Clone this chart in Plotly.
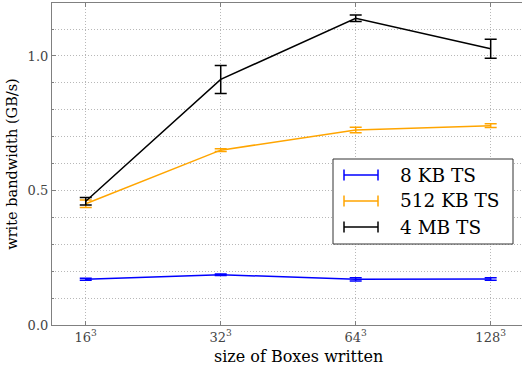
import plotly.graph_objects as go

categories = ["16<sup>3</sup>", "32<sup>3</sup>", "64<sup>3</sup>", "128<sup>3</sup>"]
x_idx = [0, 1, 2, 3]

series_names = ["8 KB TS", "512 KB TS", "4 MB TS"]
series_colors = ["#0000ff", "#ffa500", "#000000"]
vals_8kb = [0.170, 0.187, 0.170, 0.171]
err_8kb = [0.004, 0.003, 0.006, 0.005]
vals_512kb = [0.451, 0.650, 0.725, 0.741]
err_512kb = [0.014, 0.005, 0.010, 0.007]
vals_4mb = [0.460, 0.913, 1.140, 1.027]
err_4mb = [0.014, 0.052, 0.012, 0.035]

y_ticks = [0.0, 0.5, 1.0]
y_tick_labels = ["0.0", "0.5", "1.0"]

FONT = "DejaVu Serif, Liberation Serif, serif"
GRID_DASH = "1px,2px"

W, H = 522, 371
ML, MR, MT, MB = 52, 0, 3, 46
PW, PH = W - ML - MR, H - MT - MB


def px_x(p):
    return (p - ML) / PW


def px_y(p):
    return (H - MB - p) / PH


fig = go.Figure()
for name, color, v, e in zip(series_names, series_colors,
                             [vals_8kb, vals_512kb, vals_4mb],
                             [err_8kb, err_512kb, err_4mb]):
    fig.add_trace(go.Scatter(
        x=x_idx, y=v, name=name, mode="lines", showlegend=False,
        line=dict(color=color, width=1.5),
        error_y=dict(type="data", array=e, visible=True, color=color,
                     thickness=1.5, width=6),
    ))

# legend drawn by hand (pgfplots-style error-bar glyphs)
shapes = [dict(type="rect", xref="paper", yref="paper", layer="above",
               x0=px_x(333), x1=px_x(513), y0=px_y(244), y1=px_y(159),
               fillcolor="white", line=dict(color="#333333", width=1))]
annotations = []
row_y = [175, 201, 227]
for name, color, ry in zip(series_names, series_colors, row_y):
    shapes.append(dict(type="line", xref="paper", yref="paper", layer="above",
                       x0=px_x(344), x1=px_x(378), y0=px_y(ry), y1=px_y(ry),
                       line=dict(color=color, width=1.5)))
    for cx in (344, 378):
        shapes.append(dict(type="line", xref="paper", yref="paper", layer="above",
                           x0=px_x(cx), x1=px_x(cx), y0=px_y(ry - 5.5), y1=px_y(ry + 5.5),
                           line=dict(color=color, width=1.5)))
    annotations.append(dict(text=name, xref="paper", yref="paper",
                            x=px_x(398), y=px_y(ry), xanchor="left", yanchor="middle",
                            showarrow=False,
                            font=dict(family=FONT, size=18.5, color="#000000")))

annotations.append(dict(text="size of Boxes written", xref="paper", yref="paper",
                        x=px_x(298), y=px_y(345), xanchor="center", yanchor="top",
                        showarrow=False, font=dict(family=FONT, size=16, color="#000000")))

fig.update_layout(
    width=W, height=H,
    margin=dict(l=ML, r=MR, t=MT, b=MB),
    plot_bgcolor="white", paper_bgcolor="white",
    font=dict(family=FONT, size=13, color="#000000"),
    showlegend=False,
    xaxis=dict(
        range=[-0.25, 3.232], tickmode="array", tickvals=x_idx, ticktext=categories,
        showline=True, linecolor="#808080", linewidth=1.2, mirror="ticks",
        ticks="inside", ticklen=4, tickcolor="#808080",
        showgrid=True, gridcolor="#b8b8b8", griddash=GRID_DASH, gridwidth=1,
        zeroline=False,
        tickfont=dict(family=FONT, size=13, color="#444444"),
    ),
    yaxis=dict(
        range=[0, 1.197], tickmode="array", tickvals=y_ticks, ticktext=y_tick_labels,
        showline=True, linecolor="#808080", linewidth=1.2, mirror=False,
        ticks="inside", ticklen=4, tickcolor="#808080",
        showgrid=True, gridcolor="#b8b8b8", griddash=GRID_DASH, gridwidth=1,
        minor=dict(dtick=0.1, showgrid=True, gridcolor="#b8b8b8", griddash=GRID_DASH,
                   gridwidth=1, ticks="inside", ticklen=2, tickcolor="#808080"),
        zeroline=False,
        tickfont=dict(family=FONT, size=13, color="#444444"),
        title=dict(text="write bandwidth (GB/s)", font=dict(family=FONT, size=14.5),
                   standoff=6),
    ),
    shapes=shapes,
    annotations=annotations,
)

fig.write_html("out.html")
